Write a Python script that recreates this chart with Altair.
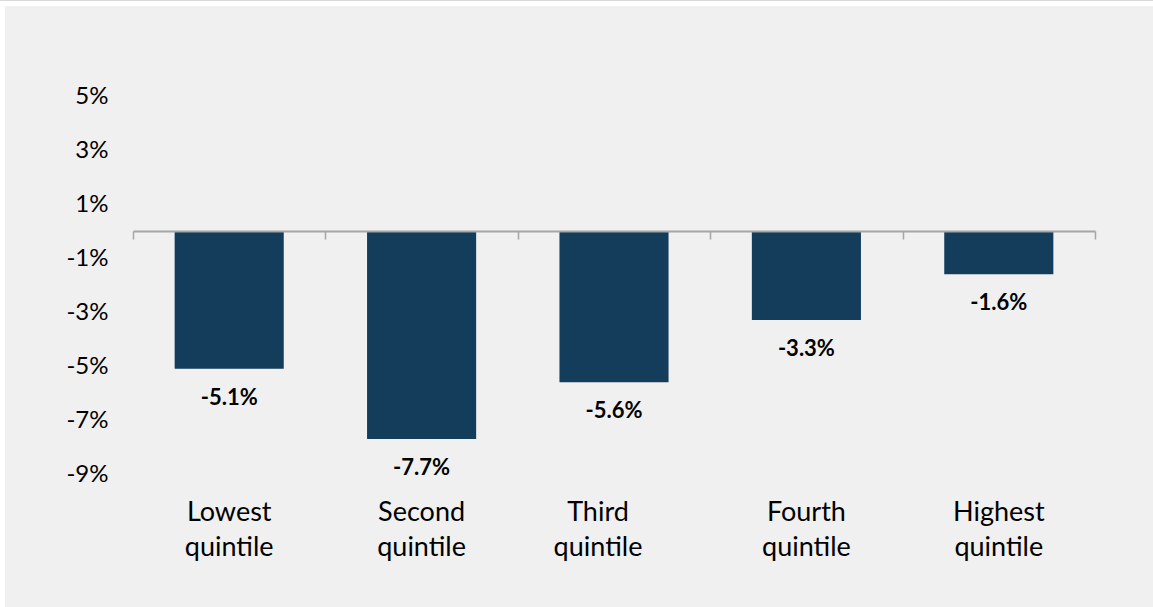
import altair as alt
import pandas as pd

categories = ["Lowest quintile", "Second quintile", "Third quintile", "Fourth quintile", "Highest quintile"]
values = [-5.1, -7.7, -5.6, -3.3, -1.6]
y_ticks = [-9, -7, -5, -3, -1, 1, 3, 5]

df = pd.DataFrame({
    "cat": categories,
    "value": values,
    "label": [f"{v:.1f}%" for v in values],
})

FONT = "Lato"
W, H = 962, 378
PL, PT = 133, 96

bg = alt.Chart(pd.DataFrame({"a": [0]})).mark_rect(color="#f0f0f0").encode(
    x=alt.value(5 - PL), x2=alt.value(1153 - PL),
    y=alt.value(6 - PT), y2=alt.value(607 - PT),
)
topline = alt.Chart(pd.DataFrame({"a": [0]})).mark_rule(color="#d9d9d9", strokeWidth=1).encode(
    x=alt.value(-PL), x2=alt.value(1153 - PL), y=alt.value(0.5 - PT),
)

xscale = alt.Scale(domain=categories, paddingInner=0, paddingOuter=0)
yscale = alt.Scale(domain=[-9, 5], nice=False, zero=False)
yaxis = alt.Axis(values=y_ticks, domain=False, ticks=False, grid=False, zindex=1,
                 labelFont=FONT, labelFontSize=24, labelColor="#000000",
                 labelPadding=25, labelExpr="datum.value + '%'")

bars = alt.Chart(df).mark_bar(color="#133d5b", width=alt.RelativeBandSize(0.567)).encode(
    x=alt.X("cat:N", scale=xscale, sort=categories, title=None,
            axis=alt.Axis(orient="bottom", domain=False, ticks=False, tickSize=0, zindex=1,
                          labelAngle=0, labelFont=FONT, labelFontSize=27, labelColor="#000000",
                          labelPadding=25, labelLineHeight=35,
                          labelExpr="split(datum.label, ' ')",
                          labelOffset={"condition": {"test": "datum.value === 'Third quintile'", "value": -16}, "value": 0})),
    y=alt.Y("value:Q", scale=yscale, title=None, axis=yaxis),
    y2=alt.datum(0),
)

text = alt.Chart(df).mark_text(font=FONT, fontSize=22, fontWeight="bold", color="#000000",
                               baseline="middle", dy=29).encode(
    x=alt.X("cat:N", scale=xscale, sort=categories, title=None,
            axis=alt.Axis(orient="bottom", offset=-243, labels=False, domain=True, ticks=True, zindex=1,
                          domainColor="#a6a6a6", domainWidth=2, tickColor="#a6a6a6", tickWidth=1.5,
                          tickSize=8, tickBand="extent", grid=False)),
    y=alt.Y("value:Q", scale=yscale, title=None, axis=yaxis),
    text="label:N",
)

chart = alt.layer(bg, topline, bars, text).resolve_axis(x="independent").properties(
    width=W, height=H,
    autosize=alt.AutoSizeParams(type="none"),
    padding={"left": PL, "top": PT, "right": 1153 - PL - W, "bottom": 607 - PT - H},
    background="#ffffff",
).configure_view(stroke=None)

chart.save("out.html", embed_options={"renderer": "svg", "actions": False})
